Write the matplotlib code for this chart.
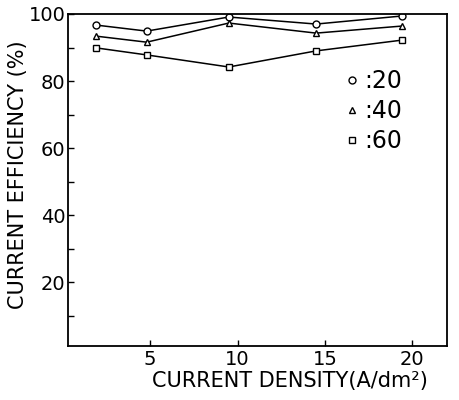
import matplotlib
matplotlib.use("Agg")
import matplotlib.pyplot as plt
from matplotlib.lines import Line2D

# current density (A/dm2) of the measured points
density = [1.9, 4.8, 9.5, 14.5, 19.4]

# current efficiency (%) for each series
eff_20 = [96.7, 94.9, 99.1, 97.0, 99.4]
eff_40 = [93.4, 91.6, 97.3, 94.3, 96.4]
eff_60 = [89.9, 87.8, 84.2, 89.0, 92.2]

series_labels = [":20", ":40", ":60"]
markers = ["o", "^", "s"]

x_ticks = [5, 10, 15, 20]
y_ticks = [20, 40, 60, 80, 100]
y_minor = [10, 30, 50, 70, 90]

plt.rcParams["font.family"] = ["DejaVu Sans"]

fig = plt.figure(figsize=(4.6, 4.0), dpi=100)
ax = fig.add_axes([0.148, 0.135, 0.824, 0.83])

for ys, m in zip([eff_20, eff_40, eff_60], markers):
    ax.plot(density, ys, color="black", lw=1.1, marker=m, ms=5,
            mfc="white", mec="black", mew=1.0)

ax.set_xlim(0.3, 22)
ax.set_ylim(1, 100)
ax.set_xticks(x_ticks)
ax.set_yticks(y_ticks)
ax.set_yticks(y_minor, minor=True)
ax.tick_params(axis="both", which="both", direction="in", length=4,
               width=1, labelsize=14)
ax.tick_params(axis="x", pad=3)
ax.tick_params(axis="y", pad=2)
for s in ax.spines.values():
    s.set_linewidth(1.3)

ax.set_xlabel("CURRENT DENSITY(A/dm²)", fontsize=15)
ax.xaxis.set_label_coords(0.585, -0.075)
ax.set_ylabel("CURRENT EFFICIENCY (%)", fontsize=15)
ax.yaxis.set_label_coords(-0.105, 0.515)

handles = [Line2D([], [], ls="none", marker=m, ms=5, mfc="white",
                  mec="black", mew=1.0) for m in markers]
ax.legend(handles, series_labels, frameon=False, fontsize=17,
          loc="upper left", bbox_to_anchor=(0.7, 0.87),
          handlelength=0.6, handletextpad=0.2, labelspacing=0.25,
          borderpad=0)

fig.savefig("out.png", dpi=100)
